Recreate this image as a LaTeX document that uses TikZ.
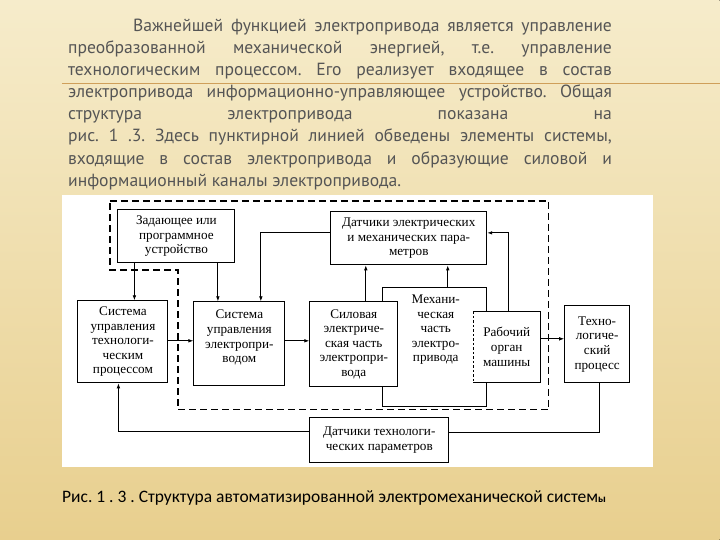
\documentclass[tikz,border=0pt]{standalone}
\usepackage{fontspec}
\setmainfont{Liberation Serif}
\newfontfamily\parafont{PT Sans}
\newfontfamily\capfont{Carlito}
\usetikzlibrary{arrows.meta}
\definecolor{slidetop}{HTML}{F6ECCB}
\definecolor{slidebot}{HTML}{E8CF8E}
\definecolor{rulecol}{HTML}{CF9F5A}
\definecolor{paratext}{HTML}{555555}
\frenchspacing

\begin{document}
\begin{tikzpicture}[x=1pt, y=-1pt, >={Latex[length=5pt,width=3.6pt]},
  box/.style={draw, line width=1pt, fill=white, align=center, inner sep=0pt,
    font=\fontsize{13.2}{14.6}\selectfont},
  frame/.style={line width=1.4pt, dash pattern=on 7pt off 4pt},
  link/.style={->, line width=0.8pt},
  paraline/.style={anchor=base west, inner sep=0pt, text=paratext,
    font=\parafont\fontsize{17.6}{20}\selectfont}]
  % slide background
  \fill[top color=slidetop, bottom color=slidebot] (0,0) rectangle (720,540);
  \draw[rulecol, line width=0.8pt] (62,83) -- (720,83);
  % paragraph
  \foreach \ln [count=\i] in {{\hspace*{65pt}Важнейшей функцией электропривода является управление},
      {преобразованной механической энергией, т.е. управление},
      {технологическим процессом. Его реализует входящее в состав},
      {электропривода информационно-управляющее устройство. Общая},
      {структура электропривода показана на},
      {рис. 1 .3. Здесь пунктирной линией обведены элементы системы,},
      {входящие в состав электропривода и образующие силовой и}}
    \node[paraline] (par\i) at (68, 9.4+22.1*\i) {\makebox[544pt][s]{\ln}};
  \node[paraline] (par8) at (68, 186.2) {информационный каналы электропривода.};
  % figure panel
  \fill[white] (62,195) rectangle (653,467);
  \draw[frame] (110,201) -- (549,201) -- (549,410) -- (178,410) -- (178,270) -- (110,270) -- cycle;
  % blocks
  \node[box, minimum width=117pt, minimum height=53pt] (zad) at (176.5,236.5)
    {Задающее или\\программное\\устройство};
  \node[box, minimum width=156pt, minimum height=53pt] (dat1) at (409,238.5)
    {Датчики электрических\\и механических пара-\\метров};
  \node[box, minimum width=90pt, minimum height=82pt] (sut) at (123,342)
    {Система\\управления\\технологи-\\ческим\\процессом};
  \node[box, minimum width=91pt, minimum height=84pt] (sue) at (239.5,344)
    {Система\\управления\\электропри-\\водом\\\mbox{}};
  \node[box, minimum width=104pt, minimum height=119pt] (mech) at (435,347.5) {};
  \node[box, minimum width=88pt, minimum height=85pt] (sil) at (354,344.5)
    {Силовая\\электриче-\\ская часть\\электропри-\\вода};
  \node[box, draw=none, minimum width=66pt, minimum height=70pt] (rab) at (507,347)
    {Рабочий\\орган\\машины};
  \draw[line width=1pt] (rab.south west) -- (rab.south east) -- (rab.north east) -- (rab.north west);
  \draw[line width=1pt, dash pattern=on 2.5pt off 2pt] (rab.north west) -- (rab.south west);
  \node[box, draw=none, fill=none] (mechtxt) at (436,330)
    {Механи-\\ческая\\часть\\электро-\\привода};
  \node[box, minimum width=65pt, minimum height=77pt] (tp) at (597.5,344.5)
    {Техно-\\логиче-\\ский\\процесс};
  \node[box, minimum width=139pt, minimum height=45pt] (dat2) at (379.5,440.5)
    {Датчики технологи-\\ческих параметров};
  % connectors
  \draw[link] (134.5,0 |- zad.south) -- (134.5,0 |- sut.north);
  \draw[link] (218,0 |- zad.south) -- (218,0 |- sue.north);
  \draw[link] (dat1.west |- 0,233) -| (261,0 |- sue.north);
  \draw[link] (sut.east |- 0,341) -- (sue.west |- 0,341);
  \draw[link] (sue.east |- 0,341) -- (sil.west |- 0,341);
  \draw[link] (366,0 |- sil.north) -- (366,0 |- dat1.south);
  \draw[link] (448,0 |- mech.north) -- (448,0 |- dat1.south);
  \draw[link] (509,0 |- rab.north) |- (dat1.east |- 0,233);
  \draw[link] (rab.east |- 0,339) -- (tp.west |- 0,339);
  \draw[line width=0.8pt] (600,0 |- tp.south) |- (dat2.east |- 0,433);
  \draw[link] (dat2.west |- 0,432) -| (118.5,0 |- sut.south);
  % caption
  \node[anchor=base west, inner sep=0pt, font=\capfont\fontsize{17.5}{20}\selectfont] (cap) at (62,503)
    {Рис. 1 . 3 . Структура автоматизированной электромеханической систем{\fontsize{11}{12}\selectfont\bfseries ы}};
\end{tikzpicture}
\end{document}
